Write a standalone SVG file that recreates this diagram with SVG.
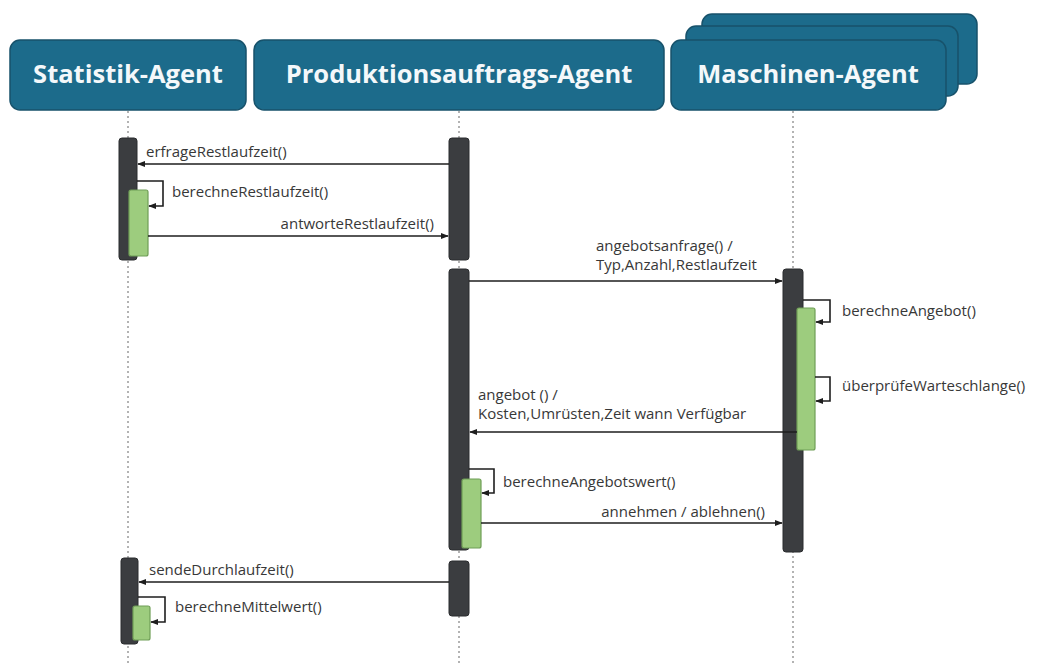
<svg xmlns="http://www.w3.org/2000/svg" width="1040" height="666" viewBox="0 0 1040 666">
  <style>
    .hdr { fill: #1c6b8b; stroke: #17526b; stroke-width: 1.5; }
    .hdrtxt { font-family: "Open Sans", "Noto Sans", sans-serif; font-weight: bold; font-size: 25.5px; fill: #f4f8fa; text-anchor: middle; }
    .life { stroke: #9a9a9a; stroke-width: 1.5; stroke-dasharray: 2 3; fill: none; }
    .bar { fill: #3b3d40; stroke: #2a2c2e; stroke-width: 1; }
    .act { fill: #9dcc7e; stroke: #6f9e56; stroke-width: 1.2; }
    .msg { stroke: #1e1e1e; stroke-width: 1.6; fill: none; marker-end: url(#ah); }
    .lbl { font-family: "Open Sans", "Noto Sans", sans-serif; font-size: 15px; fill: #383838; }
  </style>
  <defs>
    <marker id="ah" viewBox="0 0 10 10" refX="9" refY="5" markerWidth="5" markerHeight="5" orient="auto-start-reverse" markerUnits="strokeWidth">
      <path d="M0,1 L10,5 L0,9 z" fill="#1e1e1e"/>
    </marker>
  </defs>
  <rect width="1040" height="666" fill="#ffffff"/>

  <!-- lifelines -->
  <g id="lifelines">
    <line class="life" x1="128" y1="111" x2="128" y2="666"/>
    <line class="life" x1="459" y1="111" x2="459" y2="666"/>
    <line class="life" x1="793" y1="111" x2="793" y2="666"/>
  </g>

  <!-- participant headers -->
  <g id="statistik-agent">
    <rect class="hdr" x="10" y="40" width="236" height="70" rx="10"/>
    <text class="hdrtxt" x="128" y="83">Statistik-Agent</text>
  </g>
  <g id="produktionsauftrags-agent">
    <rect class="hdr" x="254" y="40" width="410" height="70" rx="10"/>
    <text class="hdrtxt" x="459" y="83">Produktionsauftrags-Agent</text>
  </g>
  <g id="maschinen-agent">
    <rect class="hdr" x="702" y="14" width="275" height="70" rx="10"/>
    <rect class="hdr" x="686" y="26" width="272" height="70" rx="10"/>
    <rect class="hdr" x="671" y="40" width="275" height="70" rx="10"/>
    <text class="hdrtxt" x="808" y="83">Maschinen-Agent</text>
  </g>

  <!-- activation bars -->
  <g id="activations">
    <rect class="bar" x="119" y="138" width="18" height="122" rx="3"/>
    <rect class="act" x="129" y="190" width="19" height="66" rx="2"/>
    <rect class="bar" x="449" y="138" width="20" height="122" rx="3"/>
    <rect class="bar" x="449" y="269" width="20" height="281" rx="3"/>
    <rect class="act" x="462" y="479" width="19" height="69" rx="2"/>
    <rect class="bar" x="449" y="561" width="20" height="55" rx="3"/>
    <rect class="bar" x="783" y="269" width="20" height="283" rx="3"/>
    <rect class="act" x="797" y="308" width="18" height="142" rx="2"/>
    <rect class="bar" x="121" y="558" width="17" height="86" rx="3"/>
    <rect class="act" x="133" y="606" width="17" height="34" rx="2"/>
  </g>

  <!-- messages -->
  <g id="connectors">
    <line class="msg" x1="449" y1="164" x2="138" y2="164"/>
    <path class="msg" d="M137,181 H163 V206 H149"/>
    <line class="msg" x1="148" y1="236" x2="448" y2="236"/>
    <line class="msg" x1="469" y1="281" x2="782" y2="281"/>
    <path class="msg" d="M803,300 H830 V322 H816"/>
    <path class="msg" d="M815,377 H830 V401 H816"/>
    <line class="msg" x1="797" y1="432" x2="470" y2="432"/>
    <path class="msg" d="M469,469 H494 V493 H482"/>
    <line class="msg" x1="481" y1="523" x2="782" y2="523"/>
    <line class="msg" x1="449" y1="582" x2="139" y2="582"/>
    <path class="msg" d="M138,597 H165 V622 H151"/>
  </g>

  <!-- message labels -->
  <g id="labels">
    <text class="lbl" x="146" y="157">erfrageRestlaufzeit()</text>
    <text class="lbl" x="172" y="197">berechneRestlaufzeit()</text>
    <text class="lbl" x="434" y="229" text-anchor="end">antworteRestlaufzeit()</text>
    <text class="lbl" x="596" y="251">angebotsanfrage() /</text>
    <text class="lbl" x="596" y="270">Typ,Anzahl,Restlaufzeit</text>
    <text class="lbl" x="842" y="316">berechneAngebot()</text>
    <text class="lbl" x="842" y="391">überprüfeWarteschlange()</text>
    <text class="lbl" x="478" y="400">angebot () /</text>
    <text class="lbl" x="478" y="419">Kosten,Umrüsten,Zeit wann Verfügbar</text>
    <text class="lbl" x="503" y="487">berechneAngebotswert()</text>
    <text class="lbl" x="765" y="517" text-anchor="end">annehmen / ablehnen()</text>
    <text class="lbl" x="149" y="575">sendeDurchlaufzeit()</text>
    <text class="lbl" x="175" y="612">berechneMittelwert()</text>
  </g>
</svg>
